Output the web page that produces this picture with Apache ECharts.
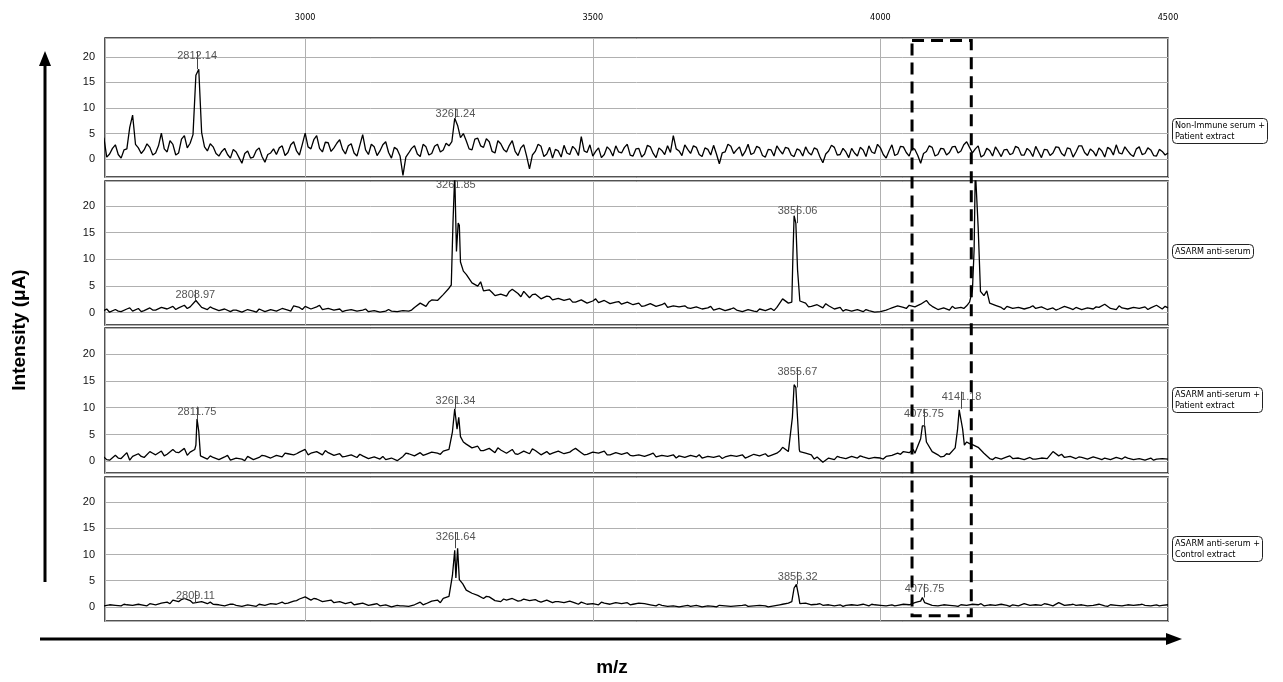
<!DOCTYPE html>
<html>
<head>
<meta charset="utf-8">
<script src="https://cdn.jsdelivr.net/npm/echarts@6/dist/echarts.min.js"></script>
<style>
  html, body { margin: 0; padding: 0; background: #fff; }
  #main { width: 1283px; height: 682px; }
</style>
</head>
<body>
<div id="main"></div>
<script>
// spectra start at 2650 m/z; panel 1 sampled every 5, the others every 10,
// plus extra points around the peaks
var mzStart = 2650;
var mzSteps = [5, 10, 10, 10];

var panelNames = [
    "Non-Immune serum +\nPatient extract",
    "ASARM anti-serum",
    "ASARM anti-serum +\nPatient extract",
    "ASARM anti-serum +\nControl extract"
];

var spec1 = [
    4.2, 0.4, 1.0, 2.1, 2.8, 0.9, 0.2, 1.8, 2.0, 6.2, 8.6, 2.9, 2.2, 1.1, 1.8, 3.0, 2.3, 0.8, 1.2, 2.6,
    5.1, 2.0, 1.4, 3.6, 2.9, 0.8, 1.2, 3.9, 4.6, 2.2, 3.1, 4.8, 16.4, 17.6, 5.2, 2.4, 1.6, 3.0, 2.4, 1.1,
    0.6, 1.5, 2.1, 0.9, 0.2, 1.9, 1.4, 0.3, -0.8, 1.1, 1.6, 0.2, 0.4, 1.7, 2.2, 0.5, -0.6, 0.9, 1.2, 2.0,
    0.9, 2.2, 2.6, 0.7, 1.3, 2.8, 3.4, 1.6, 0.8, 2.9, 5.1, 2.4, 2.0, 3.8, 4.6, 2.1, 1.4, 3.3, 3.2, 1.5,
    2.2, 3.1, 3.8, 1.9, 1.0, 2.6, 3.0, 1.2, 0.6, 2.7, 4.8, 1.8, 0.9, 2.9, 2.4, 0.7, 1.6, 2.8, 3.4, 1.3,
    0.2, 2.3, 1.9, 0.6, -3.2, 0.4, 1.2, 2.1, 2.6, 1.0, 0.5, 2.9, 2.4, 0.8, 1.1, 2.5, 2.9, 1.4, 1.8, 3.1,
    2.6, 3.4, 8.0, 6.6, 4.2, 5.0, 3.6, 2.0, 1.8, 3.9, 4.1, 2.6, 2.3, 4.0, 3.4, 1.5, 1.2, 3.6, 3.0, 1.9,
    1.4, 2.7, 3.6, 1.5, 0.7, 2.2, 2.8, 0.6, -1.9, 0.8, 1.5, 2.9, 2.5, 0.5, 1.0, 2.3, 0.2, 1.9, 1.6, 0.4,
    2.7, 1.2, 0.9, 2.5, 1.9, 0.7, 4.4, 1.6, 1.3, 2.8, 0.6, 1.5, 2.2, 0.3, 0.9, 2.4, 1.8, 0.6, 2.6, 1.4,
    1.2, 2.3, 2.9, 0.8, 0.6, 2.0, 2.1, 0.4, 1.0, 2.7, 2.4, 1.1, 0.3, 2.2, 1.7, 0.9, 2.6, 1.3, 4.6, 2.0,
    1.6, 0.7, 2.8, 1.9, 1.1, 2.6, 2.3, 0.9, 0.5, 2.2, 1.9, 0.8, 2.7, 1.0, -0.9, 1.2, 1.4, 2.9, 2.5, 1.1,
    1.8, 2.4, 0.6, 1.5, 2.9, 0.9, 1.2, 2.5, 2.2, 0.7, 0.4, 1.9, 1.8, 0.6, 2.6, 1.7, 1.0, 2.3, 2.1, 0.8,
    0.5, 2.0, 1.7, 0.6, 2.4, 1.3, 0.8, 2.2, 1.9, 0.4, -0.7, 1.0, 1.6, 2.7, 2.3, 0.8, 0.9, 2.1, 1.4, 0.3,
    2.1, 1.2, 0.6, 2.3, 1.8, 0.5, 2.6, 1.4, 1.1, 2.9, 2.2, 0.9, 0.2, 1.6, 2.8, 0.7, 1.0, 2.5, 2.4, 1.3,
    0.6, 2.2, 1.9, 0.7, -0.8, 1.1, 1.5, 2.6, 2.3, 0.6, 0.9, 2.1, 2.0, 0.8, 1.3, 2.4, 2.5, 1.2, 1.6, 2.8,
    3.4, 2.3, 1.2, 2.0, 2.6, 0.4, 0.8, 2.1, 1.7, 0.6, 2.4, 1.5, 0.5, 1.8, 1.9, 0.9, 1.1, 2.5, 2.2, 0.8,
    0.8, 2.1, 1.6, 0.5, 2.5, 1.4, 0.3, 1.9, 1.8, 0.7, 1.2, 2.4, 2.3, 1.1, 0.6, 2.2, 2.0, 0.4, 1.4, 2.6,
    2.6, 1.3, 0.7, 2.0, 1.5, 0.6, 2.2, 1.6, 0.4, 2.3, 1.9, 0.8, 2.8, 1.2, 1.0, 2.4, 1.6, 0.9, 0.5, 2.0,
    2.4, 0.9, 1.1, 2.2, 1.8, 0.7, 0.6, 1.9, 1.5, 0.8, 1.2
];
var extra1 = [];

var spec2 = [
    0.4, 0.1, 0.6, 0.2, 0.7, 0.3, 0.8, 0.4, 0.9, 0.5,
    1.0, 0.7, 1.2, 0.9, 1.4, 1.1, 2.3, 1.0, 0.6, 0.8,
    0.4, 0.7, 0.2, 0.5, 0.1, 0.6, 0.3, 0.7, 0.2, 0.6,
    0.3, 0.8, 0.5, 1.3, 1.0, 1.2, 0.7, 1.1, 0.6, 0.8,
    0.5, 0.7, 0.4, 0.6, 0.3, 0.5, 0.2, 0.4, 0.1, 0.3,
    0.3, 0.2, 0.4, 0.3, 1.0, 1.8, 1.2, 2.4, 2.3, 3.4,
    4.6, 26, 9.5, 7.2, 5.6, 5.0, 4.1, 4.3, 3.2, 3.5,
    3.1, 4.4, 3.6, 4.0, 2.8, 3.5, 2.6, 3.1, 2.4, 2.7,
    2.3, 2.6, 2.0, 2.4, 1.8, 2.2, 1.9, 2.3, 1.7, 2.0,
    1.6, 2.0, 1.5, 1.8, 1.3, 1.7, 1.2, 1.5, 1.0, 1.3,
    1.1, 1.3, 0.8, 1.1, 0.7, 0.9, 0.5, 0.8, 0.4, 0.7,
    0.5, 0.2, 0.6, 0.3, 0.7, 0.4, 0.8, 1.0, 2.6, 1.8,
    18.2, 2.2, 1.8, 1.2, 1.5, 0.9, 1.3, 0.7, 1.0, 0.6,
    0.3, 0.6, 0.2, 0.4, 0.1, 0.2, 0.5, 0.9, 1.3, 1.0,
    1.4, 1.1, 1.6, 2.3, 1.2, 0.6, 0.9, 0.5, 0.8, 1.0,
    1.3, 4.2, 16, 3.2, 1.8, 1.4, 1.0, 1.2, 0.8, 1.0,
    0.7, 1.0, 0.8, 1.1, 0.6, 0.9, 0.7, 1.2, 0.8, 1.0,
    0.6, 0.9, 0.7, 1.0, 1.6, 0.8, 0.6, 0.9, 0.7, 1.0,
    0.8, 1.1, 0.9, 1.4, 0.7, 0.9
];
var extra2 = [[2655, 0.7], [2675, 0.3], [2695, 0.9], [2715, 0.2], [2735, 0.5], [2775, 0.6], [2795, 0.8],
    [2835, 1.1], [2875, 0.5], [2915, 0.1], [2975, 0.3], [2995, 0.6], [3025, 1.4], [3065, 0.2],
    [3105, 0.7], [3145, 0.6], [3185, 0.5], [3215, 2.0],
    [3254, 5.2], [3257, 17], [3263, 11.5], [3266, 16.8], [3268, 16.4], [3275, 7.8],
    [3305, 5.8], [3325, 3.8], [3355, 4.0], [3375, 3.0], [3395, 3.4], [3425, 3.0], [3465, 2.0],
    [3505, 2.6], [3545, 2.1], [3585, 1.2], [3625, 1.8], [3665, 0.9], [3705, 1.2], [3745, 0.9],
    [3785, 0.2], [3815, 0.4],
    [3846, 2.0], [3848, 11], [3853, 16.8], [3856, 8],
    [3875, 1.1], [3905, 1.7], [3935, 0.3], [3975, 0.6], [4015, 0.7], [4045, 0.8], [4085, 1.6],
    [4125, 1.2], [4145, 0.8],
    [4155, 2.0], [4163, 12], [4165, 27], [4168, 27], [4174, 4.0], [4185, 4.1],
    [4215, 0.6], [4265, 1.3], [4305, 0.5], [4335, 0.6], [4375, 1.1], [4415, 1.3], [4465, 0.6], [4495, 1.2]];

var spec3 = [
    0.8, 0.2, 1.1, 0.5, 1.6, 0.9, 1.4, 0.7, 1.8, 1.2,
    1.9, 1.3, 2.2, 1.6, 2.4, 1.7, 3.0, 0.9, 0.4, 0.7,
    0.3, 0.8, 0.2, 0.6, 0.4, 0.9, 0.3, 0.7, 1.0, 0.6,
    1.1, 0.8, 1.4, 1.2, 1.7, 2.2, 1.5, 1.8, 1.2, 1.6,
    1.1, 1.4, 0.9, 1.2, 0.7, 1.0, 0.5, 0.8, 0.4, 0.3,
    0.6, 0.1, 0.9, 1.4, 1.0, 1.6, 1.3, 1.7, 1.5, 1.9,
    2.2, 9.8, 4.6, 3.2, 2.5, 2.8, 2.0, 2.4, 1.6, 2.1,
    1.5, 2.2, 1.3, 1.9, 1.4, 2.0, 1.2, 1.8, 1.5, 1.9,
    1.4, 1.7, 2.4, 1.6, 1.3, 1.7, 1.5, 1.9, 1.2, 1.6,
    1.3, 1.6, 1.0, 1.2, 0.9, 1.3, 0.8, 1.1, 0.9, 1.2,
    1.0, 0.7, 1.1, 0.8, 0.6, 0.9, 0.7, 1.0, 0.8, 1.1,
    0.9, 1.2, 0.8, 1.3, 1.0, 1.4, 1.1, 1.5, 2.6, 1.8,
    14.3, 1.8, 1.5, 1.2, 0.8, -0.2, 0.6, 0.3, 0.7, 0.5,
    0.9, 0.6, 0.8, 0.5, 0.7, 0.6, 0.9, 1.1, 1.5, 1.8,
    1.6, 1.5, 4.2, 3.6, 1.8, 1.2, 0.9, 1.3, 2.5, 9.8,
    3.6, 3.1, 2.6, 1.5, 0.5, 0.7, 0.4, 0.8, 0.5, 0.6,
    0.3, 0.7, 0.4, 0.6, 0.5, 1.8, 1.0, 0.7, 0.9, 0.5,
    0.7, 0.4, 0.8, 0.5, 0.6, 0.3, 0.7, 0.4, 0.6, 0.3,
    0.5, 0.2, 0.6, 0.4, 0.5, 0.4
];
var extra3 = [[2655, 0.3], [2675, 0.6], [2695, 0.2], [2715, 0.9], [2735, 1.5], [2755, 1.0],
    [2775, 1.7], [2795, 1.1],
    [2808, 2.2], [2812, 7.9], [2815, 5.6], [2818, 1.0],
    [2835, 1.0], [2865, 1.1], [2895, 0.1], [2925, 1.1], [2965, 1.5], [2985, 1.4], [3005, 1.2],
    [3035, 2.0], [3065, 0.8], [3095, 1.3], [3135, 0.9], [3175, 1.5], [3205, 1.1], [3235, 1.3],
    [3256, 5.5], [3264, 6.0], [3267, 8.2], [3275, 3.6],
    [3305, 2.0], [3335, 2.5], [3365, 1.4], [3395, 2.3], [3425, 1.3], [3465, 2.1], [3485, 1.2],
    [3525, 1.2], [3565, 1.1], [3605, 1.5], [3645, 0.6], [3685, 1.2], [3725, 0.5], [3765, 0.6],
    [3805, 0.9], [3825, 1.9],
    [3847, 8.2], [3853, 13.8], [3856, 8], [3859, 2.2],
    [3885, 0.4], [3925, 0.9], [3965, 1.0], [4005, 0.4], [4035, 1.3],
    [4057, 2.2], [4063, 1.4], [4073, 6.6], [4077, 6.6],
    [4105, 0.8], [4115, 1.4],
    [4134, 5.8], [4137, 9.6], [4143, 6.0], [4146, 3.0], [4155, 3.3],
    [4195, 0.3], [4225, 1.0], [4265, 0.4], [4315, 1.3], [4345, 0.8], [4385, 0.3], [4425, 0.8], [4475, 0.2]];

var spec4 = [
    0.2, 0.4, 0.3, 0.2, 0.4, 0.3, 0.5, 0.3, 0.6, 0.4,
    0.7, 0.9, 1.3, 1.0, 1.6, 1.2, 0.8, 1.0, 0.6, 0.5,
    0.4, 0.2, 0.5, 0.3, 0.1, 0.4, 0.2, 0.5, 0.3, 0.6,
    0.5, 0.9, 0.7, 1.1, 1.5, 1.9, 1.3, 1.5, 1.0, 1.2,
    0.8, 1.0, 0.6, 0.9, 0.5, 0.7, 0.3, 0.5, 0.2, 0.4,
    0.0, 0.3, 0.2, 0.1, 0.4, 0.9, 0.6, 1.1, 1.3, 1.6,
    2.0, 10.8, 5.0, 3.2, 2.6, 2.2, 1.6, 1.9, 1.2, 1.0,
    1.3, 1.6, 1.1, 1.5, 1.2, 1.4, 0.9, 1.3, 0.8, 1.0,
    0.8, 1.1, 0.7, 0.9, 0.5, 0.6, 0.4, 0.7, 0.5, 0.8,
    0.6, 0.8, 0.5, 0.7, 0.6, 0.4, 0.2, 0.3, 0.1, 0.2,
    0.0, 0.2, 0.1, 0.3, 0.0, 0.2, 0.1, 0.3, 0.2, 0.1,
    0.2, 0.3, 0.1, 0.2, 0.3, 0.2, 0.1, 0.3, 0.5, 0.7,
    3.6, 0.6, 0.7, 0.4, 0.5, 0.3, 0.4, 0.2, 0.4, 0.3,
    0.4, 0.3, 0.5, 0.2, 0.4, 0.3, 0.2, 0.4, 0.3, 0.5,
    0.4, 0.8, 1.1, 0.9, 0.3, 0.2, 0.4, 0.3, 0.2, 0.4,
    0.3, 0.5, 0.4, 0.2, 0.4, 0.3, 0.5, 0.3, 0.4, 0.2,
    0.6, 0.3, 0.4, 0.3, 0.5, 0.2, 0.8, 0.3, 0.4, 0.3,
    0.4, 0.2, 0.3, 0.5, 0.2, 0.4, 0.3, 0.2, 0.4, 0.3,
    0.4, 0.3, 0.2, 0.4, 0.3, 0.4
];
var extra4 = [[2685, 0.5], [2725, 0.2], [2765, 0.6], [2785, 1.4], [2805, 0.7], [2835, 0.9],
    [2875, 0.5], [2915, 0.1], [2965, 0.6], [2985, 1.2], [3015, 1.6], [3045, 1.3], [3085, 0.4],
    [3125, 0.6], [3165, 0.2], [3205, 0.4], [3235, 0.8],
    [3256, 6.0], [3262, 5.5], [3265, 11.2], [3268, 5.2], [3274, 4.4],
    [3315, 2.0], [3345, 1.5], [3375, 1.2], [3405, 1.1], [3435, 1.0], [3475, 0.5], [3515, 0.9],
    [3565, 0.4], [3615, 0.5], [3665, 0.3], [3715, 0.0], [3765, 0.4], [3805, 0.0], [3825, 0.4],
    [3846, 1.0], [3854, 4.3], [3858, 2.0],
    [3895, 0.6], [3935, 0.1], [3985, 0.5], [4025, 0.2],
    [4066, 1.0], [4073, 1.8], [4077, 0.8],
    [4135, 0.1], [4175, 0.6], [4225, 0.1], [4285, 0.6], [4335, 0.5], [4395, 0.1], [4455, 0.5], [4485, 0.2]];

// peak labels: [m/z, height of the label]
var labels1 = [[2812.14, 20.1], [3261.24, 8.9]];
var labels2 = [[2808.97, 3.3], [3261.85, 24.0], [3856.06, 19.1]];
var labels3 = [[2811.75, 9.2], [3261.34, 11.2], [3855.67, 16.6], [4075.75, 8.8], [4141.18, 12.0]];
var labels4 = [[2809.11, 2.1], [3261.64, 13.3], [3856.32, 5.7], [4076.75, 3.4]];

// dashed box around the 4075 / 4141 peaks
var boxMz = [4055, 4158];

var xTicks = [3000, 3500, 4000, 4500];

function build(base, extra, step) {
    var pts = base.map(function (v, i) { return [mzStart + i * step, v]; });
    return pts.concat(extra).sort(function (a, b) { return a[0] - b[0]; });
}

// highest point of a spectrum near a labelled m/z
function peakTop(data, mz) {
    var top = -Infinity;
    data.forEach(function (p) {
        if (Math.abs(p[0] - mz) <= 4 && p[1] > top) top = p[1];
    });
    return top;
}

var spectra = [
    build(spec1, extra1, mzSteps[0]),
    build(spec2, extra2, mzSteps[1]),
    build(spec3, extra3, mzSteps[2]),
    build(spec4, extra4, mzSteps[3])
];
var peakLabels = [labels1, labels2, labels3, labels4];

var gridBox = [
    { top: 38, height: 139 },
    { top: 181, height: 144 },
    { top: 328, height: 145 },
    { top: 477, height: 144 }
];
var yRange = [[-3.5, 23.7], [-2.3, 24.7], [-2.2, 24.9], [-2.7, 24.8]];
var boxY = [23.2, -1.7]; // top in panel 1, bottom in panel 4

var narrow = '"Liberation Sans Narrow", "DejaVu Sans Condensed", sans-serif';

var chartDom = document.getElementById("main");
var myChart = echarts.init(chartDom);
var option;

var grids = [], xAxes = [], yAxes = [], series = [], titles = [];
for (var i = 0; i < 4; i++) {
    grids.push({
        left: 105, width: 1063, top: gridBox[i].top, height: gridBox[i].height,
        show: true, borderColor: "#1a1a1a", borderWidth: 1.5, backgroundColor: "#fff"
    });
    xAxes.push({
        type: "value", gridIndex: i, min: 2652, max: 4500, splitNumber: 3,
        position: "top",
        axisLine: { show: false },
        axisTick: { show: false },
        axisLabel: {
            show: i === 0, margin: 16, fontSize: 9, color: "#000", fontFamily: narrow,
            showMinLabel: false,
            formatter: function (v) { return xTicks.indexOf(v) >= 0 ? String(v) : ""; }
        },
        splitLine: { show: true, lineStyle: { color: "#b0b0b0", width: 1 } }
    });
    yAxes.push({
        type: "value", gridIndex: i, min: yRange[i][0], max: yRange[i][1],
        axisLine: { show: false },
        axisTick: { show: false },
        axisLabel: {
            margin: 10, fontSize: 11, color: "#111", fontFamily: "Liberation Sans, Arial, sans-serif",
            showMinLabel: false, showMaxLabel: false,
            formatter: function (v) { return v % 5 === 0 ? String(v) : ""; }
        },
        splitLine: { show: true, lineStyle: { color: "#b0b0b0", width: 1 } }
    });
    var data = spectra[i];
    series.push({
        type: "line", xAxisIndex: i, yAxisIndex: i,
        data: data,
        showSymbol: false,
        lineStyle: { color: "#000", width: 1.3 },
        animation: false,
        // thin tick from the peak up into its label
        markLine: {
            silent: true, symbol: "none",
            lineStyle: { color: "#444", width: 1, type: "solid" },
            label: { show: false },
            data: peakLabels[i].map(function (d) {
                return [{ coord: [d[0], peakTop(data, d[0])] }, { coord: [d[0], d[1] + 1] }];
            })
        },
        markPoint: {
            symbol: "rect", symbolSize: [1, 1],
            itemStyle: { color: "rgba(0,0,0,0)" },
            label: {
                show: true, position: "inside", color: "#555", fontSize: 11,
                fontFamily: "Liberation Sans, Arial, sans-serif",
                formatter: function (p) { return p.name; }
            },
            data: peakLabels[i].map(function (d) {
                return { name: d[0].toFixed(2), coord: [d[0], d[1]] };
            })
        }
    });
}

var legendTop = [118, 244, 387, 536];
for (var j = 0; j < 4; j++) {
    titles.push({
        text: panelNames[j], left: 1172, top: legendTop[j],
        padding: [2, 3], borderColor: "#222", borderWidth: 1, borderRadius: 4,
        textStyle: { fontSize: 9, lineHeight: 11, fontWeight: "normal", color: "#000", fontFamily: narrow }
    });
}

option = {
    backgroundColor: "#fff",
    animation: false,
    title: titles,
    grid: grids,
    xAxis: xAxes,
    yAxis: yAxes,
    series: series
};

option && myChart.setOption(option);

// annotations placed through the axes
var bx1 = myChart.convertToPixel({ xAxisIndex: 0 }, boxMz[0]);
var bx2 = myChart.convertToPixel({ xAxisIndex: 0 }, boxMz[1]);
var by1 = myChart.convertToPixel({ yAxisIndex: 0 }, boxY[0]);
var by2 = myChart.convertToPixel({ yAxisIndex: 3 }, boxY[1]);

myChart.setOption({
    graphic: [
        {
            type: "rect", z: 100,
            shape: { x: bx1, y: by1, width: bx2 - bx1, height: by2 - by1 },
            style: { fill: "none", stroke: "#000", lineWidth: 3, lineDash: [12, 7] }
        },
        {
            type: "line", shape: { x1: 45, y1: 582, x2: 45, y2: 64 },
            style: { stroke: "#000", lineWidth: 3 }
        },
        {
            type: "polygon", shape: { points: [[45, 51], [39, 66], [51, 66]] },
            style: { fill: "#000" }
        },
        {
            type: "line", shape: { x1: 40, y1: 639, x2: 1168, y2: 639 },
            style: { stroke: "#000", lineWidth: 3 }
        },
        {
            type: "polygon", shape: { points: [[1182, 639], [1166, 633], [1166, 645]] },
            style: { fill: "#000" }
        },
        {
            type: "text", x: 20, y: 330, rotation: Math.PI / 2,
            style: {
                text: "Intensity (\u03bcA)", fill: "#000", font: "bold 19px 'Liberation Sans', Arial, sans-serif",
                align: "center", verticalAlign: "middle"
            }
        },
        {
            type: "text", x: 612, y: 668,
            style: {
                text: "m/z", fill: "#000", font: "bold 19px 'Liberation Sans', Arial, sans-serif",
                align: "center", verticalAlign: "middle"
            }
        }
    ]
});

window.addEventListener("resize", function () {
    myChart.resize();
});
</script>
</body>
</html>
